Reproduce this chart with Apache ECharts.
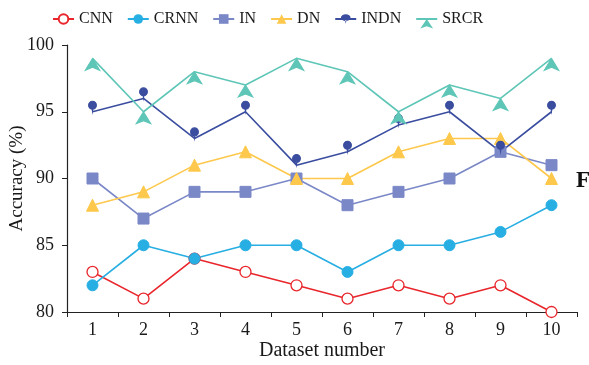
<!DOCTYPE html>
<html><head><meta charset="utf-8">
<script src="https://cdn.jsdelivr.net/npm/echarts@6/dist/echarts.min.js"></script>
<style>html,body{margin:0;padding:0;background:#fff}#c{width:589px;height:365px}</style>
</head><body><div id="c"></div>
<script>
const categories = ['1','2','3','4','5','6','7','8','9','10'];
const CNN  = [83, 81, 84, 83, 82, 81, 82, 81, 82, 80];
const CRNN = [82, 85, 84, 85, 85, 83, 85, 85, 86, 88];
const IN   = [90, 87, 89, 89, 90, 88, 89, 90, 92, 91];
const DN   = [88, 89, 91, 92, 90, 90, 92, 93, 93, 90];
const INDN = [95, 96, 93, 95, 91, 92, 94, 95, 92, 95];
const SRCR = [99, 95, 98, 97, 99, 98, 95, 97, 96, 99];
const yTicks = [80, 85, 90, 95, 100];

const font = 'Liberation Serif, Times New Roman, serif';
const pin = 'path://M5,0A5,5,0,1,1,4.999,0ZM4.2,9L5,14L5.8,9Z';
function s(name, data, color, symbol, size, extra) {
  return Object.assign({
    name, type: 'line', data, symbol, symbolSize: size,
    lineStyle: { color, width: 1.6 },
    itemStyle: { color, borderColor: color },
    emphasis: { disabled: true },
    z: 3
  }, extra || {});
}
const chart = echarts.init(document.getElementById('c'));
chart.setOption({
  animation: false,
  textStyle: { fontFamily: font },
  legend: {
    top: 6, left: 47, itemWidth: 21, itemHeight: 12, itemGap: 14,
    textStyle: { fontFamily: font, fontSize: 16, color: '#1a1a1a' },
    data: ['CNN','CRNN','IN','DN','INDN','SRCR']
  },
  grid: { left: 67, right: 12, top: 45, bottom: 53, containLabel: false, outerBoundsMode: 'none' },
  xAxis: {
    type: 'category', data: categories, boundaryGap: true,
    name: 'Dataset number', nameLocation: 'middle', nameGap: 29, nameMoveOverlap: false,
    nameTextStyle: { fontFamily: font, fontSize: 20, color: '#1a1a1a' },
    axisLine: { lineStyle: { color: '#222', width: 1.2 } },
    axisTick: { show: true, alignWithLabel: false, length: 5, lineStyle: { color: '#222' } },
    axisLabel: { fontFamily: font, fontSize: 18, color: '#1a1a1a', margin: 9 }
  },
  yAxis: {
    type: 'value', min: yTicks[0], max: yTicks[yTicks.length-1], interval: 5,
    name: 'Accuracy (%)', nameLocation: 'middle', nameGap: 40, nameRotate: 90, nameMoveOverlap: false,
    nameTextStyle: { fontFamily: font, fontSize: 19, color: '#1a1a1a' },
    axisLine: { show: true, lineStyle: { color: '#222', width: 1.2 } },
    axisTick: { show: true, length: 5, lineStyle: { color: '#222' } },
    axisLabel: { fontFamily: font, fontSize: 18, color: '#1a1a1a', margin: 13 },
    splitLine: { show: false }
  },
  graphic: [{ type: 'text', left: 576, top: 170, style: { text: 'F', font: 'bold 23px ' + font, fill: '#111' } }],
  series: [
    s('CNN', CNN, '#e8262c', 'circle', 11, { itemStyle: { color: '#fff', borderColor: '#e8262c', borderWidth: 1.3 } }),
    s('CRNN', CRNN, '#27aee3', 'circle', 11),
    s('IN', IN, '#7b88c7', 'rect', 11),
    s('DN', DN, '#fdc84b', 'triangle', 12),
    s('INDN', INDN, '#3a4d9f', pin, [8, 11], { symbolOffset: [0, -5] }),
    s('SRCR', SRCR, '#5ec6b7', 'arrow', [11, 12], { symbolOffset: [0, 0] })
  ]
});
</script></body></html>
